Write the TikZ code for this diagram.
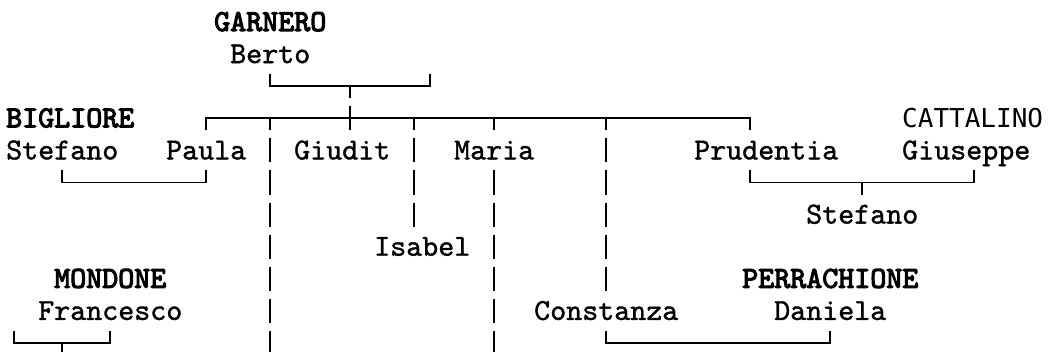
\documentclass[tikz,border=0pt]{standalone}
\usepackage{fontspec}
\newfontfamily\sansmono{DejaVu Sans Mono}
\newfontfamily\nmfont[FakeBold=1.2]{lmmono10-regular.otf}
\newfontfamily\snfont[FakeBold=3.5]{lmmono10-regular.otf}
\tikzset{
  nm/.style={anchor=base west, inner sep=0pt,
    font=\nmfont\fontsize{30.5}{30.5}\selectfont},
  sn/.style={anchor=base west, inner sep=0pt,
    font=\snfont\fontsize{30.5}{30.5}\selectfont},
  ss/.style={anchor=base west, inner sep=0pt,
    font=\sansmono\fontsize{26}{26}\selectfont},
  ln/.style={line width=1.8pt},
  vbar/.style={ln, dash pattern=on 24.1pt off 8pt, dash phase=12.05pt},
  vbarz/.style={ln, dash pattern=on 24.1pt off 8pt, dash phase=0pt},
}
\begin{document}
\begin{tikzpicture}[x=1pt,y=-1pt]
\useasboundingbox (0,0) rectangle (1048,352);
% people
\node[sn] (garnero) at (214,31) {GARNERO};
\node[nm] (berto) at (230,63.1) {Berto};
\node[sn] (bigliore) at (6,127.3) {BIGLIORE};
\node[ss] (cattalino) at (902,127.3) {CATTALINO};
\node[nm] (stefanoA) at (6,159.4) {Stefano};
\node[nm] (paula) at (166,159.4) {Paula};
\node[nm] (giudit) at (294,159.4) {Giudit};
\node[nm] (maria) at (454,159.4) {Maria};
\node[nm] (prudentia) at (694,159.4) {Prudentia};
\node[nm] (giuseppe) at (902,159.4) {Giuseppe};
\node[nm] (stefanoB) at (806,223.6) {Stefano};
\node[nm] (isabel) at (374,255.7) {Isabel};
\node[sn] (mondone) at (54,287.8) {MONDONE};
\node[sn] (perrachione) at (742,287.8) {PERRACHIONE};
\node[nm] (francesco) at (38,319.9) {Francesco};
\node[nm] (constanza) at (534,319.9) {Constanza};
\node[nm] (daniela) at (774,319.9) {Daniela};
% junction coordinates
\coordinate (bertoFoot) at (270,74.15);
\coordinate (spouseFoot) at (430,74.15);
\coordinate (cplA) at (270,86.2);
\coordinate (cplB) at (430,86.2);
\coordinate (cplMid) at (350,86.2);
\coordinate (cplEnd) at (350,130.35);
\coordinate (paulaTop) at (206,130.35);
\coordinate (mainL) at (206,118.3);
\coordinate (mainR) at (750,118.3);
\coordinate (prudTop) at (750,130.35);
\coordinate (dA) at (270,118.3);
\coordinate (dAend) at (270,352);
\coordinate (dB) at (414,118.3);
\coordinate (isabelTop) at (414,226.6);
\coordinate (dC) at (494,118.3);
\coordinate (mariaTop) at (494,130.35);
\coordinate (mariaFoot) at (494,170.45);
\coordinate (dCend) at (494,352);
\coordinate (dD) at (606,118.3);
\coordinate (constTop) at (606,291.05);
% Stefano - Paula
\coordinate (stefAFoot) at (62,170.45);
\coordinate (stefAC) at (62,182.5);
\coordinate (paulaC) at (206,182.5);
\coordinate (paulaFoot) at (206,170.45);
% Prudentia - Giuseppe
\coordinate (prudFoot) at (750,170.45);
\coordinate (prudC) at (750,182.5);
\coordinate (giusC) at (974,182.5);
\coordinate (giusFoot) at (974,170.45);
\coordinate (pgMid) at (862,182.5);
\coordinate (stefBTop) at (862,194.55);
% Francesco
\coordinate (frL) at (14,330.95);
\coordinate (frLC) at (14,343);
\coordinate (frRC) at (110,343);
\coordinate (frR) at (110,330.95);
\coordinate (frMid) at (62,343);
\coordinate (frDown) at (62,355);
% Constanza - Daniela
\coordinate (conFoot) at (606,330.95);
\coordinate (conC) at (606,343);
\coordinate (danC) at (830,343);
\coordinate (danFoot) at (830,330.95);
% connectors
\draw[ln] (bertoFoot) -- (cplA) -- (cplB) -- (spouseFoot);
\draw[vbar] (cplMid) -- (cplEnd);
\draw[ln] (paulaTop) -- (mainL) -- (mainR) -- (prudTop);
\draw[vbar] (dA) -- (dAend);
\draw[vbar] (dB) -- (isabelTop);
\draw[ln] (dC) -- (mariaTop);
\draw[vbarz] (mariaFoot) -- (dCend);
\draw[vbar] (dD) -- (constTop);
\draw[ln] (stefAFoot) -- (stefAC) -- (paulaC) -- (paulaFoot);
\draw[ln] (prudFoot) -- (prudC) -- (giusC) -- (giusFoot);
\draw[ln] (pgMid) -- (stefBTop);
\draw[ln] (frL) -- (frLC) -- (frRC) -- (frR);
\draw[ln] (frMid) -- (frDown);
\draw[ln] (conFoot) -- (conC) -- (danC) -- (danFoot);
\end{tikzpicture}
\end{document}
